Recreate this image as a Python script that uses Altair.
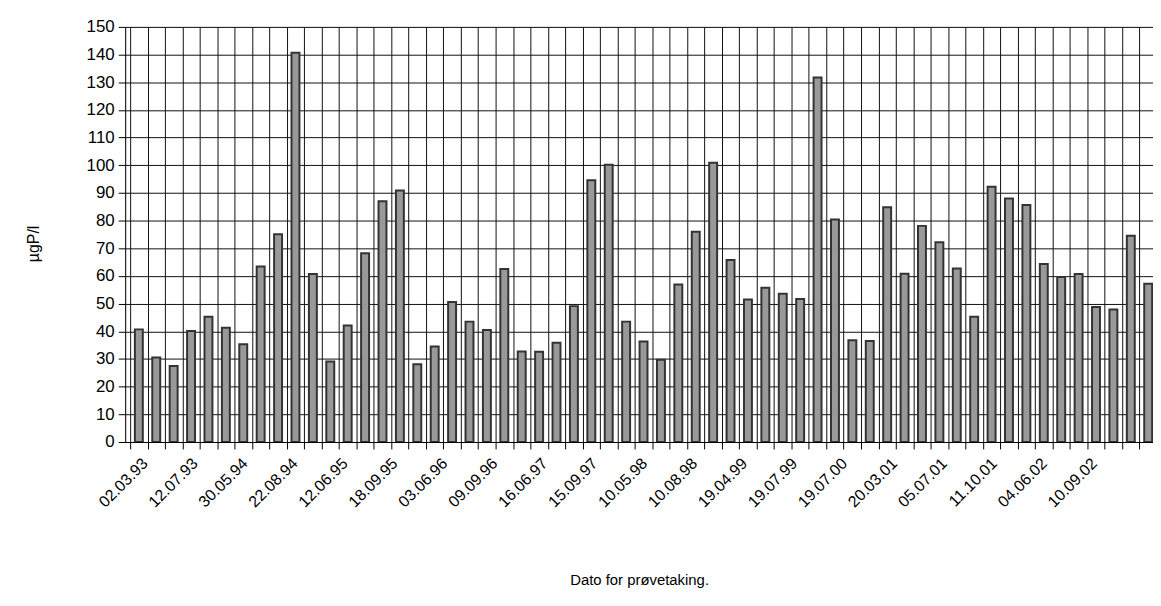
import altair as alt
import pandas as pd

values = [40.7, 30.5, 27.5, 40.1, 45.3, 41.3, 35.3, 63.4, 75.1, 140.7,
          60.7, 29.1, 42.1, 68.2, 87.0, 90.9, 28.1, 34.5, 50.6, 43.5,
          40.5, 62.5, 32.7, 32.6, 35.9, 49.1, 94.6, 100.2, 43.5, 36.3,
          29.7, 56.9, 76.0, 100.9, 65.8, 51.5, 55.7, 53.6, 51.7, 131.7,
          80.4, 36.8, 36.5, 84.8, 60.8, 78.1, 72.2, 62.7, 45.3, 92.2,
          88.0, 85.6, 64.3, 59.6, 60.7, 48.8, 47.9, 74.5, 57.2]

date_labels = ["02.03.93", "12.07.93", "30.05.94", "22.08.94", "12.06.95",
               "18.09.95", "03.06.96", "09.09.96", "16.06.97", "15.09.97",
               "10.05.98", "10.08.98", "19.04.99", "19.07.99", "19.07.00",
               "20.03.01", "05.07.01", "11.10.01", "04.06.02", "10.09.02"]

y_ticks = list(range(0, 151, 10))
n = len(values)
df = pd.DataFrame({"idx": list(range(n)), "value": values})
df_lab = pd.DataFrame({"label": date_labels})

FONT = "Liberation Sans"
PLOT_W, PLOT_H = 1035, 418
LABEL_SPAN = 1006  # horizontal extent used by the date-label axis

bars = alt.Chart(df).transform_calculate(
    pos="datum.idx + 0.5"
).mark_bar(
    size=8, fill="#999999", stroke="#333333", strokeWidth=2, clip=True
).encode(
    x=alt.X("pos:Q",
            scale=alt.Scale(domain=[0, 58.49], nice=False, zero=False),
            axis=alt.Axis(orient="bottom", values=list(range(n)), grid=True,
                          gridColor="#111111", gridWidth=1,
                          domainColor="#000000", tickColor="#000000",
                          tickSize=7, labels=False,
                          title="Dato for prøvetaking.", titleFontSize=15,
                          titleFont=FONT, titleFontWeight="normal",
                          titleColor="#000000", titleY=144,
                          titleBaseline="alphabetic")),
    y=alt.Y("value:Q",
            scale=alt.Scale(domain=[0, 150], nice=False),
            axis=alt.Axis(values=y_ticks, grid=True, gridColor="#111111",
                          gridWidth=1, domainColor="#000000", tickColor="#000000",
                          tickSize=7, labelPadding=4, labelFontSize=17,
                          labelFont=FONT, labelColor="#000000",
                          title="µgP/l", titleFontSize=16, titleFont=FONT,
                          titleFontWeight="normal", titleColor="#000000",
                          titleAngle=-90, titleX=-92, titleY=218,
                          titleAlign="center", titleBaseline="middle")),
)

labels = alt.Chart(df_lab).mark_point(opacity=0).encode(
    x=alt.X("label:N", sort=date_labels,
            scale=alt.Scale(domain=date_labels, range=[0, LABEL_SPAN], padding=0.5),
            axis=alt.Axis(orient="bottom", domain=False, ticks=False, grid=False,
                          labelAngle=-45, labelAlign="right",
                          labelBaseline="top", labelOffset=-11, labelPadding=13,
                          labelFontSize=16, labelFont=FONT, labelColor="#000000",
                          labelOverlap=False, labelBound=False, labelFlush=False,
                          title=None)),
)

chart = alt.layer(bars, labels).resolve_scale(x="independent").resolve_axis(
    x="independent"
).properties(
    width=PLOT_W, height=PLOT_H,
    autosize=alt.AutoSizeParams(type="none"),
    padding={"left": 118, "top": 17, "right": 0, "bottom": 147},
).configure_view(stroke=None).configure(background="white")

chart.save("out.html", embed_options={"renderer": "svg", "actions": False})
